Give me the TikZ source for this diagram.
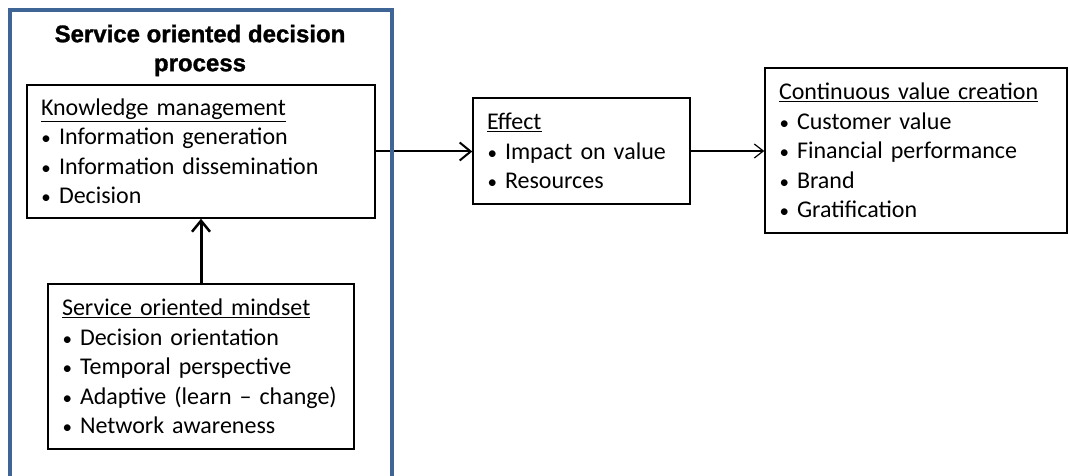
\documentclass[tikz,border=0pt]{standalone}
\usepackage{fontspec}
\setmainfont{Carlito}[WordSpace={0.9,0.5,0.5}]
\newfontfamily\titlefont{Liberation Sans}[FakeBold=1.2]
\usetikzlibrary{arrows.meta}
\definecolor{framec}{HTML}{3F6496}
\newcommand{\bitem}[1]{\makebox[18pt][l]{\hspace{0.5pt}{\fontsize{19}{19}\selectfont •}}#1}
\tikzset{
  box/.style={draw, line width=1.5pt, inner xsep=14pt, inner ysep=0pt, align=left,
    font=\fontsize{24}{29.5}\selectfont, fill=white},
  ttl/.style={align=center, font=\titlefont\bfseries\fontsize{24}{29}\selectfont},
}
\begin{document}
\begin{tikzpicture}[x=1pt,y=-1pt]
\useasboundingbox (0,0) rectangle (1069,476);
\begin{scope}
\clip (0,0) rectangle (1069,476);
\node[box, text width=320pt, minimum height=133pt] (km) at (201,151.5)
  {\underline{Knowledge management}\\ \bitem{Information generation}\\ \bitem{Information dissemination}\\ \bitem{Decision}};
\node[box, text width=278pt, minimum height=165pt] (som) at (201,366.5)
  {\underline{Service oriented mindset}\\ \bitem{Decision orientation}\\ \bitem{Temporal perspective}\\ \bitem{Adaptive (learn – change)}\\ \bitem{Network awareness}};
\node[box, text width=189pt, minimum height=106pt] (eff) at (581.5,151)
  {\underline{Effect}\\ \bitem{Impact on value}\\ \bitem{Resources}};
\node[box, text width=274pt, minimum height=165pt] (cvc) at (916,150.5)
  {\underline{Continuous value creation}\\ \bitem{Customer value}\\ \bitem{Financial performance}\\ \bitem{Brand}\\ \bitem{Gratification}};
\node[ttl] (title) at (200,50.5) {Service oriented decision\\process};
\draw[line width=3pt, -{Straight Barb[length=11pt,width=18pt,line width=2.5pt]}] (som.north) -- (km.south);
\draw[line width=2pt, -{Straight Barb[length=11pt,width=18pt,line width=2pt]}] (km.east) -- (km.east -| eff.west);
\draw[line width=1.2pt, -{Straight Barb[length=9pt,width=14pt,line width=1.2pt]}] (eff.east) -- (eff.east -| cvc.west);
\draw[framec, line width=4pt] (10,490) -- (10,10) -- (392,10) -- (392,490);
\end{scope}
\end{tikzpicture}
\end{document}
